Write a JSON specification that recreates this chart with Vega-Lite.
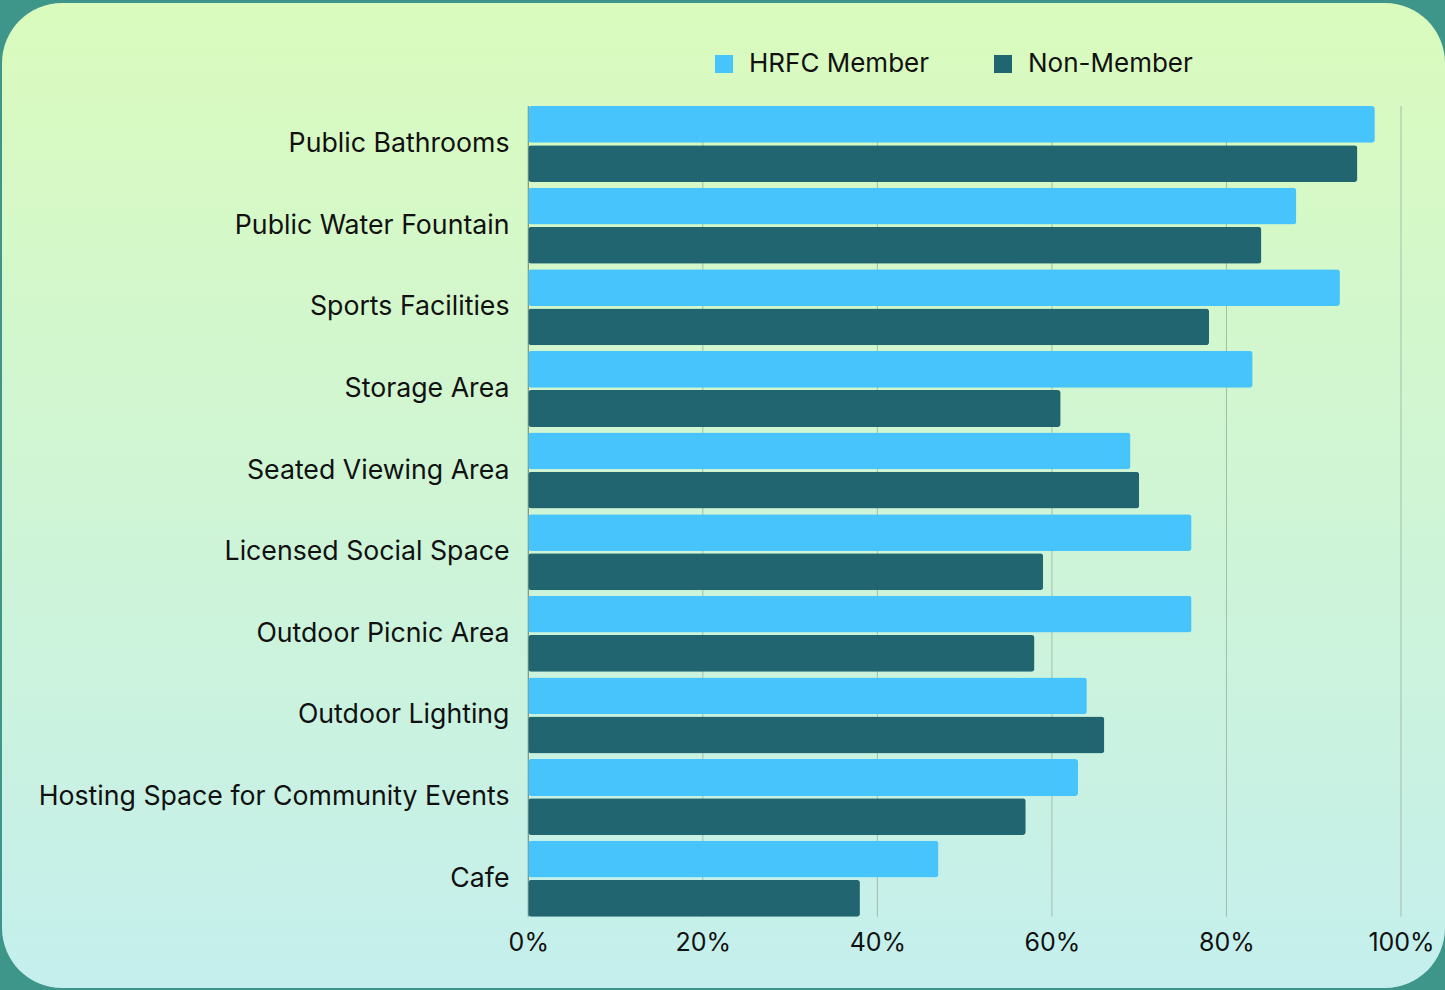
{
  "$schema": "https://vega.github.io/schema/vega-lite/v6.json",
  "autosize": "none",
  "width": 1443,
  "height": 985,
  "padding": {"left": 2, "top": 3, "right": 0, "bottom": 2},
  "background": "#3d9689",
  "config": {
    "view": {
      "fill": {"gradient": "linear", "x1": 0, "y1": 0, "x2": 0, "y2": 1, "stops": [{"offset": 0, "color": "#dafbbd"}, {"offset": 1, "color": "#c4efed"}]},
      "cornerRadius": 60,
      "stroke": null
    },
    "font": "Inter"
  },
  "datasets": {
    "bars": [
      {"category": "Public Bathrooms", "group": "HRFC Member", "value": 97},
      {"category": "Public Bathrooms", "group": "Non-Member", "value": 95},
      {"category": "Public Water Fountain", "group": "HRFC Member", "value": 88},
      {"category": "Public Water Fountain", "group": "Non-Member", "value": 84},
      {"category": "Sports Facilities", "group": "HRFC Member", "value": 93},
      {"category": "Sports Facilities", "group": "Non-Member", "value": 78},
      {"category": "Storage Area", "group": "HRFC Member", "value": 83},
      {"category": "Storage Area", "group": "Non-Member", "value": 61},
      {"category": "Seated Viewing Area", "group": "HRFC Member", "value": 69},
      {"category": "Seated Viewing Area", "group": "Non-Member", "value": 70},
      {"category": "Licensed Social Space", "group": "HRFC Member", "value": 76},
      {"category": "Licensed Social Space", "group": "Non-Member", "value": 59},
      {"category": "Outdoor Picnic Area", "group": "HRFC Member", "value": 76},
      {"category": "Outdoor Picnic Area", "group": "Non-Member", "value": 58},
      {"category": "Outdoor Lighting", "group": "HRFC Member", "value": 64},
      {"category": "Outdoor Lighting", "group": "Non-Member", "value": 66},
      {"category": "Hosting Space for Community Events", "group": "HRFC Member", "value": 63},
      {"category": "Hosting Space for Community Events", "group": "Non-Member", "value": 57},
      {"category": "Cafe", "group": "HRFC Member", "value": 47},
      {"category": "Cafe", "group": "Non-Member", "value": 38}
    ],
    "grid": [
      {"v": 0}, {"v": 20}, {"v": 40}, {"v": 60}, {"v": 80}, {"v": 100}
    ]
  },
  "layer": [
    {
      "data": {"name": "grid"},
      "mark": {"type": "rule", "strokeWidth": 1},
      "encoding": {
        "x": {"field": "v", "type": "quantitative", "scale": {"domain": [-60.3, 105.04], "nice": false, "zero": false}},
        "y": {"datum": "Public Bathrooms", "type": "nominal", "bandPosition": 0},
        "y2": {"datum": "Cafe", "bandPosition": 1},
        "color": {"condition": {"test": "datum.v === 0", "value": "#6f7d72"}, "value": "#a6bcab"}
      }
    },
    {
      "data": {"name": "bars"},
      "mark": {"type": "bar", "cornerRadius": 3},
      "encoding": {
        "x": {
          "field": "value", "type": "quantitative",
          "scale": {"domain": [-60.3, 105.04], "nice": false, "zero": false},
          "axis": {
            "title": null, "orient": "bottom", "offset": -71.3, "values": [0, 20, 40, 60, 80, 100],
            "labelExpr": "datum.value + '%'", "domain": false, "ticks": false, "grid": false,
            "labelPadding": 14, "labelFontSize": 25, "labelFont": "Inter", "labelColor": "#111111",
            "labelFlush": false, "labelOverlap": false, "labelBound": false
          }
        },
        "y": {
          "field": "category", "type": "nominal",
          "scale": {
            "domain": ["Public Bathrooms", "Public Water Fountain", "Sports Facilities", "Storage Area", "Seated Viewing Area", "Licensed Social Space", "Outdoor Picnic Area", "Outdoor Lighting", "Hosting Space for Community Events", "Cafe"],
            "range": [103, 913.7],
            "paddingInner": 0.069, "paddingOuter": 0
          },
          "axis": {
            "title": null, "domain": false, "ticks": false, "grid": false, "offset": -526,
            "labelPadding": 19, "labelFontSize": 26.7, "labelFont": "Inter", "labelColor": "#111111", "labelLimit": 700
          }
        },
        "yOffset": {
          "field": "group", "type": "nominal",
          "scale": {"domain": ["HRFC Member", "Non-Member"], "paddingInner": 0.06, "paddingOuter": 0}
        },
        "color": {
          "field": "group", "type": "nominal",
          "scale": {"domain": ["HRFC Member", "Non-Member"], "range": ["#48c4fc", "#216570"]},
          "legend": {
            "title": null, "orient": "none", "legendX": 709, "legendY": 48, "direction": "horizontal",
            "symbolType": "square", "symbolSize": 324, "symbolStrokeWidth": 0, "symbolOpacity": 1,
            "labelFontSize": 26, "labelFont": "Inter", "labelColor": "#111111", "labelOffset": 12,
            "columnPadding": 61, "padding": 0, "labelLimit": 400
          }
        }
      }
    }
  ]
}
